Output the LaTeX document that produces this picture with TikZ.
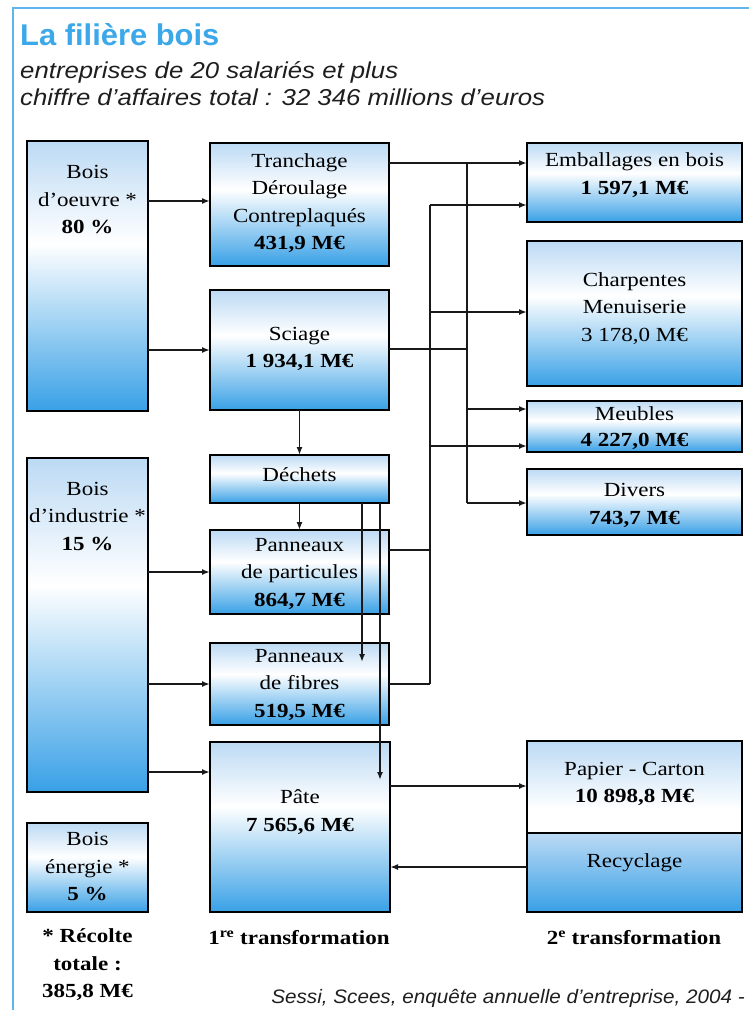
\documentclass[tikz,border=0pt]{standalone}
\usepackage{fontspec}
\setmainfont{Liberation Serif}[FakeStretch=1.15]
\newfontfamily\titlefont{Liberation Sans}[FakeStretch=1.03]
\newfontfamily\subfont{Liberation Sans}[FakeStretch=1.12]
\newfontfamily\srcfont{Liberation Sans}[FakeStretch=1.06]
\usetikzlibrary{arrows.meta}
\definecolor{bt}{RGB}{188,218,244}
\definecolor{bb}{RGB}{56,160,230}
\definecolor{titleblue}{RGB}{60,168,233}
\definecolor{framebl}{RGB}{95,182,238}
\definecolor{subgray}{RGB}{30,30,30}
\pgfdeclareverticalshading{boxsh}{100bp}{color(0bp)=(bb); color(25bp)=(bb); color(56bp)=(white); color(75bp)=(bt); color(100bp)=(bt)}
\pgfdeclareverticalshading{papsh}{100bp}{color(0bp)=(white); color(38bp)=(white); color(75bp)=(bt); color(100bp)=(bt)}
\pgfdeclareverticalshading{recsh}{100bp}{color(0bp)=(bb); color(25bp)=(bb); color(75bp)=(bt); color(100bp)=(bt)}
\begin{document}
\begin{tikzpicture}[x=1pt,y=-1pt,
  box/.style={draw=black, line width=1.7pt, shade, shading=boxsh, inner sep=0pt, outer sep=0pt},
  lbl/.style={font=\fontsize{20}{27.5}\selectfont, align=center, inner sep=0pt},
  blbl/.style={font=\bfseries\fontsize{20}{27.5}\selectfont, align=center, inner sep=0pt},
  conn/.style={line width=1.9pt, black!90},
  arr/.style={conn, -{Latex[length=8pt,width=6pt]}}]
\useasboundingbox (0,0) rectangle (749,1010);
% frame
\draw[framebl, line width=2.5pt] (13,1010) -- (13,8) -- (749,8);
% title
\node[anchor=base west, inner sep=0pt, text=titleblue, font=\titlefont\bfseries\fontsize{30}{36}\selectfont] (title) at (20,45) {La filière bois};
\node[anchor=base west, inner sep=0pt, text=subgray, font=\subfont\itshape\fontsize{23}{28}\selectfont] (sub1) at (20,78) {entreprises de 20 salariés et plus};
\node[anchor=base west, inner sep=0pt, text=subgray, font=\subfont\itshape\fontsize{23}{28}\selectfont] (sub2) at (20,105) {chiffre d’affaires total : 32 346 millions d’euros};
% boxes
\node[box, minimum width=121pt, minimum height=270pt] (oeuvre) at (87.5,276) {};
\node[box, minimum width=121pt, minimum height=334pt] (industrie) at (87.5,625) {};
\node[box, minimum width=121pt, minimum height=89pt] (energie) at (87.5,867.5) {};
\node[box, minimum width=179pt, minimum height=123pt] (tranchage) at (299.5,204.5) {};
\node[box, minimum width=179pt, minimum height=120pt] (sciage) at (299.5,350) {};
\node[box, minimum width=179pt, minimum height=48pt] (dechets) at (299.5,479) {};
\node[box, minimum width=179pt, minimum height=84pt] (particules) at (299.5,572) {};
\node[box, minimum width=179pt, minimum height=82pt] (fibres) at (299.5,684) {};
\node[box, minimum width=180pt, minimum height=170pt] (pate) at (300,827) {};
\node[box, minimum width=215pt, minimum height=79pt] (emballages) at (634.5,182.5) {};
\node[box, minimum width=215pt, minimum height=145pt] (charpentes) at (634.5,313.5) {};
\node[box, minimum width=215pt, minimum height=51pt] (meubles) at (634.5,426.5) {};
\node[box, minimum width=215pt, minimum height=66pt] (divers) at (634.5,502) {};
\node[box, shading=papsh, minimum width=215pt, minimum height=92pt] (papier) at (634.5,787) {};
\node[box, shading=recsh, minimum width=215pt, minimum height=79pt] (recyclage) at (634.5,872.5) {};
% coordinates for buses and free ends
\coordinate (bA) at (467,163);
\coordinate (bAend) at (467,503);
\coordinate (bB) at (430,205);
\coordinate (bBend) at (430,684);
\coordinate (fibin) at (362,662);
\coordinate (patein) at (380,780);
% connectors
\draw[arr] (oeuvre.east |- 0,201) -- (tranchage.west |- 0,201);
\draw[arr] (oeuvre.east |- sciage.west) -- (sciage.west);
\draw[arr] (industrie.east |- particules.west) -- (particules.west);
\draw[arr] (industrie.east |- fibres.west) -- (fibres.west);
\draw[arr] (industrie.east |- 0,772) -- (pate.west |- 0,772);
\draw[arr] (sciage.south) -- (dechets.north);
\draw[arr] (dechets.south) -- (particules.north);
\draw[arr] (dechets.south -| fibin) -- (fibin);
\draw[arr] (dechets.south -| patein) -- (patein);
\draw[arr] (tranchage.east |- bA) -- (emballages.west |- bA);
\draw[conn] (bA) -- (bAend);
\draw[arr] (bAend) -- (divers.west |- bAend);
\draw[conn] (sciage.east |- 0,349) -- (467,349);
\draw[arr] (467,409) -- (meubles.west |- 0,409);
\draw[conn] (bB) -- (bBend);
\draw[arr] (bB) -- (emballages.west |- bB);
\draw[arr] (430,312) -- (charpentes.west |- 0,312);
\draw[arr] (430,446) -- (meubles.west |- 0,446);
\draw[conn] (particules.east |- 0,550) -- (430,550);
\draw[conn] (fibres.east |- bBend) -- (bBend);
\draw[arr] (pate.east |- 0,786) -- (papier.west |- 0,786);
\draw[arr] (recyclage.west |- 0,867) -- (pate.east |- 0,867);
% texts
\node[lbl] (toeuvre) at (87.5,200) {Bois\\d'oeuvre *\\\textbf{80 \%}};
\node[lbl] (tindustrie) at (87.5,516.5) {Bois\\d'industrie *\\\textbf{15 \%}};
\node[lbl] (tenergie) at (87.5,866.5) {Bois\\énergie *\\\textbf{5 \%}};
\node[lbl] (ttranchage) at (299.5,203) {Tranchage\\Déroulage\\Contreplaqués\\\textbf{431,9~M€}};
\node[lbl] (tsciage) at (299.5,349) {Sciage\\\textbf{1~934,1~M€}};
\node[lbl] (tdechets) at (299.5,475) {Déchets};
\node[lbl] (tparticules) at (299.5,573.5) {Panneaux\\de particules\\\textbf{864,7~M€}};
\node[lbl] (tfibres) at (299.5,684.5) {Panneaux\\de fibres\\\textbf{519,5~M€}};
\node[lbl] (tpate) at (300,812) {Pâte\\\textbf{7~565,6~M€}};
\node[lbl] (temballages) at (634.5,175) {Emballages en bois\\\textbf{1~597,1~M€}};
\node[lbl] (tcharpentes) at (634.5,308.5) {Charpentes\\Menuiserie\\3~178,0~M€};
\node[lbl, font=\fontsize{20}{26}\selectfont] (tmeubles) at (634.5,428) {Meubles\\\textbf{4~227,0~M€}};
\node[lbl] (tdivers) at (634.5,505.5) {Divers\\\textbf{743,7~M€}};
\node[lbl] (tpapier) at (634.5,784) {Papier - Carton\\\textbf{10~898,8~M€}};
\node[lbl] (trecyclage) at (634.5,863) {Recyclage};
% bottom captions
\node[blbl] (recolte) at (87.5,965) {* Récolte\\totale :\\385,8~M€};
\node[blbl] (trans1) at (299,938) {1\textsuperscript{re} transformation};
\node[blbl] (trans2) at (634,938) {2\textsuperscript{e} transformation};
\node[anchor=base east, inner sep=0pt, text=subgray, font=\srcfont\itshape\fontsize{19.5}{22}\selectfont] (src) at (745,1003) {Sessi, Scees, enquête annuelle d’entreprise, 2004 -};
\end{tikzpicture}
\end{document}
